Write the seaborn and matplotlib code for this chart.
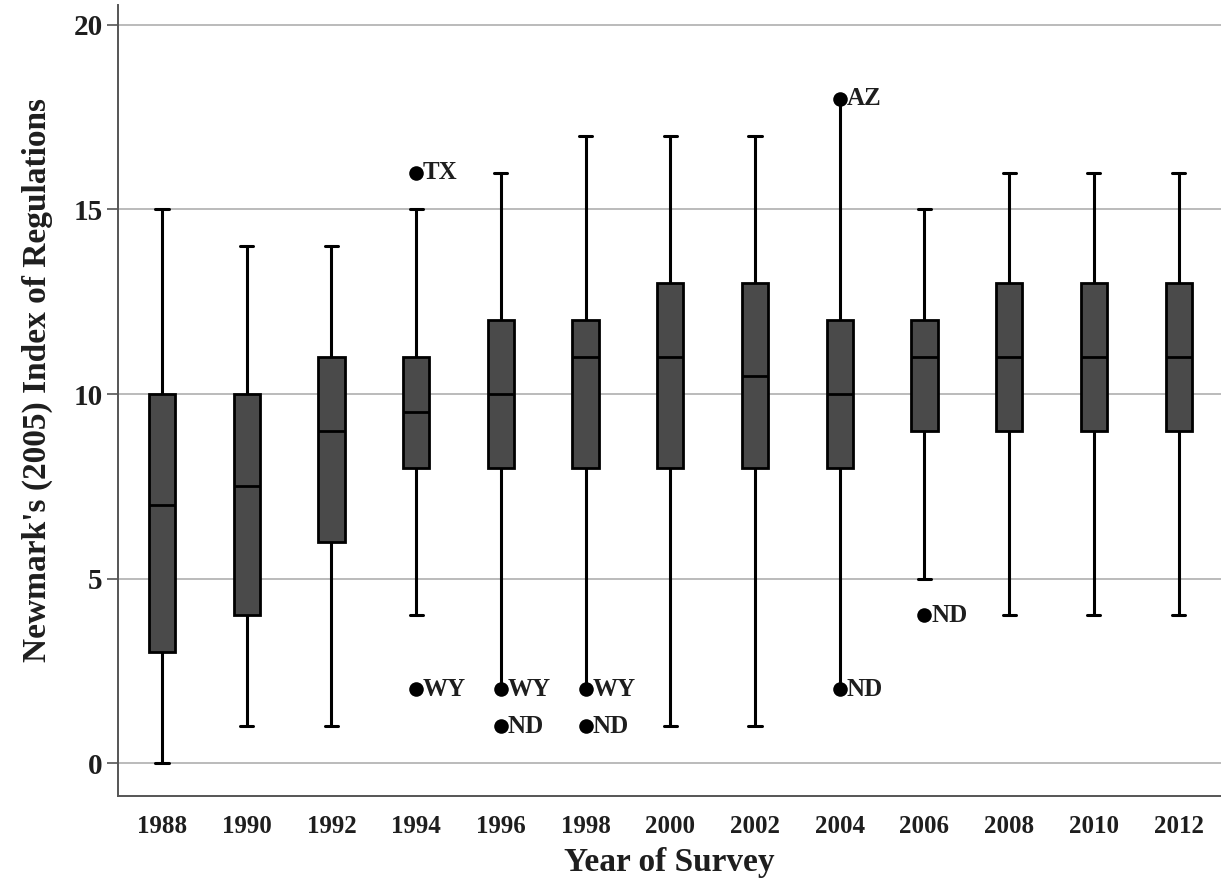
import numpy as np
import pandas as pd
import matplotlib
matplotlib.use("Agg")
import matplotlib.pyplot as plt
import seaborn as sns

years = ["1988", "1990", "1992", "1994", "1996", "1998", "2000",
         "2002", "2004", "2006", "2008", "2010", "2012"]
whisker_low = [0, 1, 1, 4, 2, 2, 1, 1, 2, 5, 4, 4, 4]
q1 = [3, 4, 6, 8, 8, 8, 8, 8, 8, 9, 9, 9, 9]
median = [7, 7.5, 9, 9.5, 10, 11, 11, 10.5, 10, 11, 11, 11, 11]
q3 = [10, 10, 11, 11, 12, 12, 13, 13, 12, 12, 13, 13, 13]
whisker_high = [15, 14, 14, 15, 16, 17, 17, 17, 18, 15, 16, 16, 16]

out_year = ["1994", "1994", "1996", "1996", "1998", "1998", "2004", "2004", "2006"]
out_value = [16, 2, 2, 1, 2, 1, 18, 2, 4]
out_label = ["TX", "WY", "WY", "ND", "WY", "ND", "AZ", "ND", "ND"]

# whiskers that end at a labelled point are drawn without a cap (index, 0=low/1=high)
no_cap = [("1996", 0), ("1998", 0), ("2004", 0), ("2004", 1)]

rows = []
for i, y in enumerate(years):
    for v in (whisker_low[i], q1[i], median[i], q3[i], whisker_high[i]):
        rows.append({"year": y, "value": v})
df = pd.DataFrame(rows)
out_df = pd.DataFrame({"year": out_year, "value": out_value, "label": out_label})

sns.set_theme(style="white")
plt.rcParams["font.family"] = ["Liberation Serif", "DejaVu Serif"]
plt.rcParams["font.weight"] = "bold"

fig = plt.figure(figsize=(12.21, 8.81), dpi=100)
ax = fig.add_axes([0.0966, 0.0965, 0.9034, 0.8978])

for gy in [0, 5, 10, 15, 20]:
    ax.axhline(gy, color="#b5b5b5", lw=1.3, zorder=0)

sns.boxplot(data=df, x="year", y="value", order=years, whis=np.inf,
            width=0.31, color="#4a4a4a", linecolor="black", linewidth=2.0,
            showfliers=False, ax=ax,
            medianprops={"color": "black", "linewidth": 2.0},
            capprops={"color": "black", "linewidth": 2.2},
            whiskerprops={"color": "black", "linewidth": 2.2},
            boxprops={"facecolor": "#4a4a4a", "edgecolor": "black"})

# hide the caps for whiskers that end at a labelled point
try:
    cont = ax.containers[0]
    caps = cont.caps
    for yr, which in no_cap:
        caps[2 * years.index(yr) + which].set_visible(False)
except Exception:
    pass

sns.scatterplot(data=out_df, x="year", y="value", color="black", s=110,
                edgecolor="black", linewidth=0, ax=ax, zorder=5, legend=False)
for yr, v, lab in zip(out_year, out_value, out_label):
    ax.annotate(lab, (years.index(yr), v), xytext=(5, 0), textcoords="offset points",
                ha="left", va="center", fontsize=18, fontweight="bold",
                color="#1e1e1e")

ax.set_xlim(-0.52, 12.5)
ax.set_ylim(-0.89, 20.54)
ax.set_yticks([0, 5, 10, 15, 20])
ax.set_yticklabels(["0", "5", "10", "15", "20"])
ax.tick_params(axis="y", which="both", left=True, length=8, width=1.2,
               color="#555555", labelsize=21, pad=3)
ax.tick_params(axis="x", bottom=False, labelsize=18, pad=8)
for lab in ax.get_xticklabels() + ax.get_yticklabels():
    lab.set_fontweight("bold")
    lab.set_color("#1e1e1e")

for s in ["top", "right"]:
    ax.spines[s].set_visible(False)
for s in ["left", "bottom"]:
    ax.spines[s].set_visible(True)
    ax.spines[s].set_color("#555555")
    ax.spines[s].set_linewidth(1.4)

ax.set_xlabel("Year of Survey", fontsize=24, fontweight="bold", color="#1e1e1e", labelpad=6)
ax.set_ylabel("Newmark's (2005) Index of Regulations", fontsize=24, fontweight="bold",
              color="#1e1e1e", labelpad=15)
ax.yaxis.set_label_coords(-0.059, 0.526)

fig.savefig("out.png", dpi=100)
